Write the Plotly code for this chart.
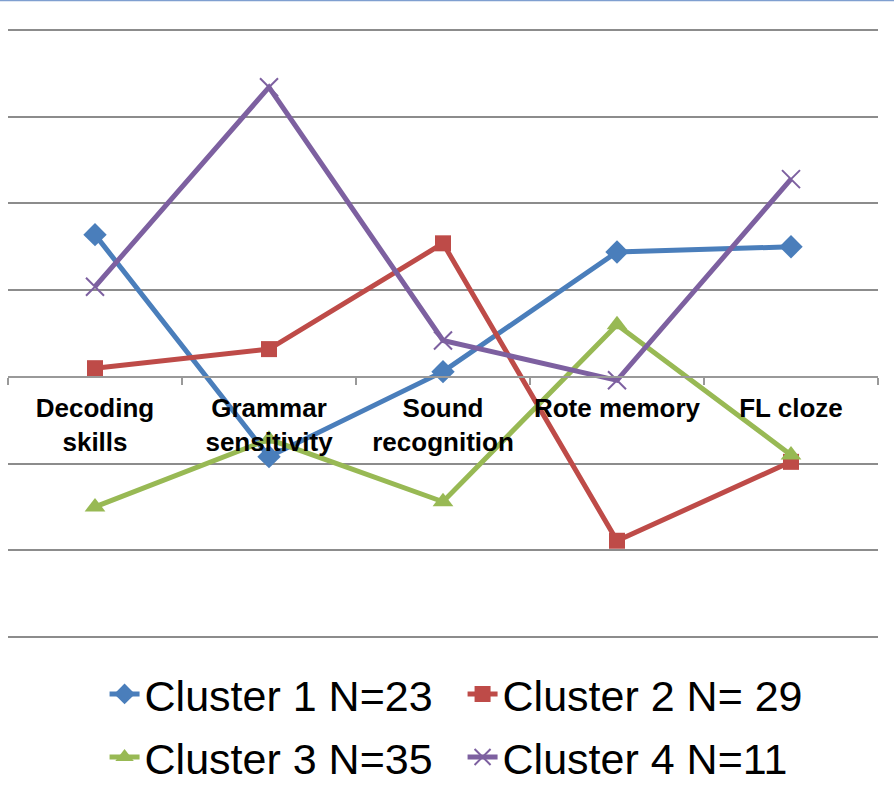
import plotly.graph_objects as go

# Aptitude profile of the four learner clusters (mean z-scores)
categories = ["Decoding<br>skills", "Grammar<br>sensitivity", "Sound<br>recognition",
              "Rote memory", "FL cloze"]
cluster1 = [0.82, -0.46, 0.03, 0.72, 0.75]
cluster2 = [0.05, 0.16, 0.77, -0.945, -0.49]
cluster3 = [-0.75, -0.36, -0.72, 0.30, -0.45]
cluster4 = [0.52, 1.67, 0.21, -0.02, 1.14]

# name, values, colour, marker symbol, marker size, marker outline width, legend row
series = [
    ("Cluster 1 N=23", cluster1, "#4A7EBB", "diamond", 18, 0, "legend"),
    ("Cluster 2 N= 29", cluster2, "#BE4B48", "square", 16, 0, "legend"),
    ("Cluster 3 N=35", cluster3, "#98B954", "triangle-up", 18, 0, "legend2"),
    ("Cluster 4 N=11", cluster4, "#7D60A0", "x-thin", 18, 2, "legend2"),
]

fig = go.Figure()
for name, vals, color, symbol, size, lw, leg in series:
    fig.add_trace(go.Scatter(
        x=categories, y=vals, name=name, mode="lines+markers",
        line=dict(color=color, width=5),
        marker=dict(symbol=symbol, size=size, color=color,
                    line=dict(width=lw, color=color)),
        legend=leg,
    ))

y_min, y_max = -1.5, 2.0
top_m, bot_m = 27, 160
plot_h = 800 - top_m - bot_m
px_per_unit = 607 / (y_max - y_min)
pad = 3 / px_per_unit  # keep the outermost gridlines inside the plot area
plot_bottom = 800 - bot_m

font_family = "Arial, Liberation Sans, sans-serif"
legend_common = dict(
    orientation="h", xanchor="left", yanchor="middle", x=0.111,
    font=dict(size=43, family=font_family, color="black"),
    entrywidth=313, entrywidthmode="pixels", bgcolor="rgba(0,0,0,0)",
)

fig.update_layout(
    width=894, height=800,
    margin=dict(l=8, r=16, t=top_m, b=bot_m, autoexpand=False),
    paper_bgcolor="white", plot_bgcolor="white",
    font=dict(family=font_family, color="black"),
    showlegend=True,
    legend=dict(legend_common, y=-(694 - plot_bottom) / plot_h),
    legend2=dict(legend_common, y=-(757 - plot_bottom) / plot_h),
    xaxis=dict(
        type="category", range=[-0.5, 4.5],
        anchor="free", position=(0 - (y_min - pad)) / (y_max - y_min + 2 * pad),
        showline=True, linecolor="#999999", linewidth=1.5,
        ticks="outside", tickson="boundaries", ticklen=7,
        tickcolor="#999999", tickwidth=1.5,
        tickangle=0,
        tickfont=dict(size=26, weight="bold", family=font_family),
        ticklabelstandoff=8,
        showgrid=False, fixedrange=True,
    ),
    yaxis=dict(
        range=[y_min - pad, y_max + pad], dtick=0.5, tick0=0,
        showticklabels=False, ticks="",
        showgrid=True, gridcolor="#8C8C8C", gridwidth=1.5,
        zeroline=False, showline=False, fixedrange=True,
    ),
    shapes=[dict(type="line", xref="paper", yref="paper",
                 x0=-8 / 870, x1=1 + 16 / 870,
                 y0=1 + (top_m - 0.5) / plot_h, y1=1 + (top_m - 0.5) / plot_h,
                 line=dict(color="#7F9FD0", width=1.5))],
)

fig.write_html("out.html")
